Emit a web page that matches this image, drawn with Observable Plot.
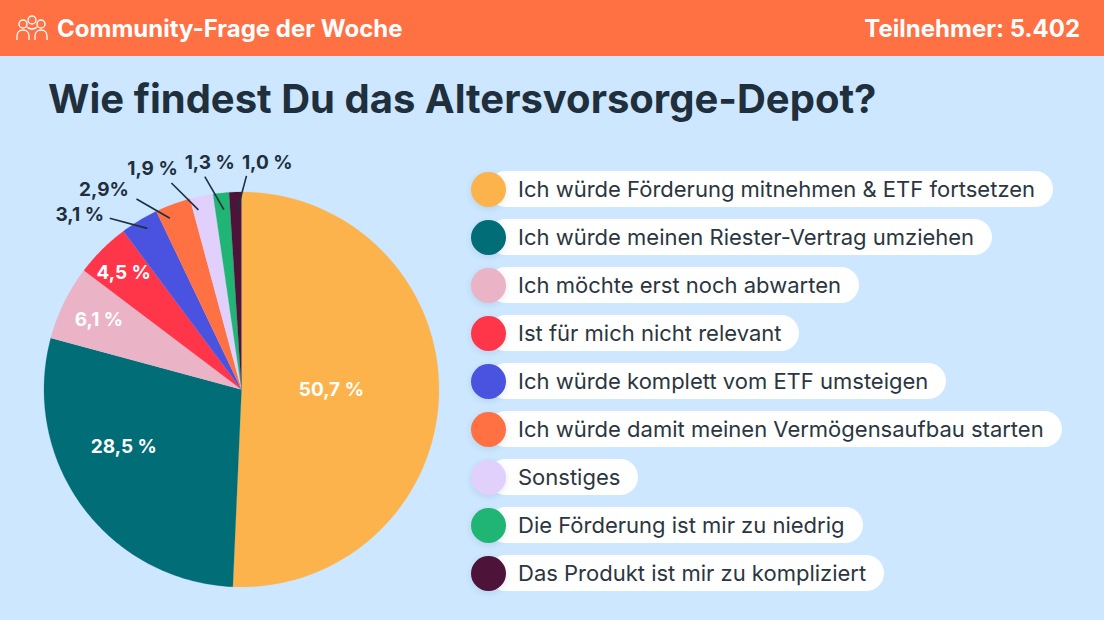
<!DOCTYPE html>
<html lang="de">
<head>
<meta charset="utf-8">
<script src="https://cdn.jsdelivr.net/npm/d3@7"></script>
<script src="https://cdn.jsdelivr.net/npm/@observablehq/plot@0.6"></script>
<style>
  html, body { margin: 0; padding: 0; width: 1104px; height: 620px; overflow: hidden; background: #cce7ff; font-family: Inter, sans-serif; }
  #header { height: 56px; background: #ff7043; color: #fff; display: flex; align-items: center; justify-content: space-between; font-size: 24px; font-weight: 700; box-sizing: border-box; padding: 0 24px 0 16px; }
  #header .left { display: flex; align-items: center; gap: 9px; }
  #title { margin: 0; height: 80px; box-sizing: border-box; padding: 17px 0 0 48px; font-size: 40px; line-height: 52px; font-weight: 700; color: #1f2f3c; }
  #main { position: relative; height: 484px; }
  #chart { position: absolute; left: 0; top: 0; }
  #legend { position: absolute; left: 471px; top: 35px; }
  .row { position: relative; height: 36px; margin-bottom: 12px; }
  .pill { position: absolute; left: 17px; top: 0; height: 36px; line-height: 36px; border-radius: 18px; background: #fff; padding: 0 18px 0 30px; white-space: nowrap; font-size: 22px; color: #2b3640; }
  .swatch { position: absolute; left: 0; top: 0.5px; width: 35px; height: 35px; border-radius: 50%; box-shadow: 0 2px 6px rgba(40,70,100,.12); }
</style>
</head>
<body>
<div id="header">
  <div class="left">
    <svg width="32" height="26" viewBox="0 0 32 26" fill="none" stroke="#fff" stroke-width="1.3">
      <circle cx="7" cy="9" r="4"/><circle cx="16" cy="5" r="4"/><circle cx="25" cy="9" r="4"/>
      <path d="M1 25v-4c0-4 3-6 6-6s6 2 6 6v4"/><path d="M19 25v-4c0-4 3-6 6-6s6 2 6 6v4"/><path d="M11 12c1 1 3 2 5 2s4-1 5-2"/>
    </svg>
    <span>Community-Frage der Woche</span>
  </div>
  <span>Teilnehmer: 5.402</span>
</div>
<h1 id="title">Wie findest Du das Altersvorsorge-Depot?</h1>
<div id="main"><div id="chart"></div><div id="legend"></div></div>
<script>
const categories = [
  "Ich würde Förderung mitnehmen & ETF fortsetzen",
  "Ich würde meinen Riester-Vertrag umziehen",
  "Ich möchte erst noch abwarten",
  "Ist für mich nicht relevant",
  "Ich würde komplett vom ETF umsteigen",
  "Ich würde damit meinen Vermögensaufbau starten",
  "Sonstiges",
  "Die Förderung ist mir zu niedrig",
  "Das Produkt ist mir zu kompliziert"
];
const values = [50.7, 28.5, 6.1, 4.5, 3.1, 2.9, 1.9, 1.3, 1.0];
const valueLabels = ["50,7 %", "28,5 %", "6,1 %", "4,5 %", "3,1 %", "2,9%", "1,9 %", "1,3 %", "1,0 %"];
const colors = ["#fdb34b", "#006d77", "#eab3c6", "#ff364a", "#4a52e0", "#ff7043", "#e2d0fc", "#20b574", "#4e1339"];

// Polar layout of the labels (angle in degrees clockwise from the top, radius in pie radii)
const insideAngle = [90, 243.8, -64, -45.4];
const insideRadius = [0.455, 0.664, 0.803, 0.838];
const leaderAngle = [-30.3, -22.7, -13.5, -5.6, -1.4];
const leaderRadius = [0.945, 0.94, 0.935, 0.915, 0.905];
const leaderBearing = [-75, -60, -45, -30, 15];
const leaderLength = [0.197, 0.195, 0.193, 0.193, 0.183];
const labelShiftX = [-0.152, -0.165, -0.096, 0.025, 0.105];
const labelShiftY = [0.019, 0.044, 0.071, 0.069, 0.066];

const rad = d => d * Math.PI / 180;
const polar = (a, r) => [r * Math.sin(rad(a)), r * Math.cos(rad(a))];

// Slice outlines: centre, then along the rim, in data units
const total = d3.sum(values);
let cum = 0;
const outline = [];
categories.forEach((cat, i) => {
  const a0 = cum / total * 360, a1 = (cum + values[i]) / total * 360;
  cum += values[i];
  outline.push({cat, x: 0, y: 0});
  const n = Math.max(2, Math.ceil((a1 - a0) / 1));
  for (let k = 0; k <= n; k++) {
    const [x, y] = polar(a0 + (a1 - a0) * k / n, 1);
    outline.push({cat, x, y});
  }
});

const inside = insideAngle.map((a, i) => {
  const [x, y] = polar(a, insideRadius[i]);
  return {x, y, text: valueLabels[i]};
});
const callouts = leaderAngle.map((a, i) => {
  const [x1, y1] = polar(a, leaderRadius[i]);
  const [ux, uy] = polar(leaderBearing[i], leaderLength[i]);
  const x2 = x1 + ux, y2 = y1 + uy;
  return {x1, y1, x2, y2, lx: x2 + labelShiftX[i], ly: y2 + labelShiftY[i], text: valueLabels[i + 4]};
});

const chart = Plot.plot({
  width: 470, height: 484,
  marginTop: 0, marginRight: 0, marginBottom: 0, marginLeft: 0,
  style: {background: "transparent", overflow: "visible"},
  x: {domain: [-1, 1], range: [43.5, 438.5], axis: null},
  y: {domain: [-1, 1], range: [450.5, 55.5], axis: null},
  color: {type: "categorical", domain: categories, range: colors},
  marks: [
    Plot.line(outline, {x: "x", y: "y", z: "cat", fill: "cat", stroke: "cat", strokeWidth: 0.2, curve: "linear"}),
    Plot.link(callouts, {x1: "x1", y1: "y1", x2: "x2", y2: "y2", stroke: "#1f2f3c", strokeWidth: 1.6}),
    Plot.text(inside, {x: "x", y: "y", text: "text", fill: "#fff", fontSize: 19, fontWeight: 700, fontFamily: "Inter, sans-serif"}),
    Plot.text(callouts, {x: "lx", y: "ly", text: "text", fill: "#1f2f3c", fontSize: 19, fontWeight: 700, fontFamily: "Inter, sans-serif"})
  ]
});
document.getElementById("chart").append(chart);

const legend = d3.select("#legend");
categories.forEach((cat, i) => {
  const row = legend.append("div").attr("class", "row");
  row.append("div").attr("class", "pill").text(cat);
  row.append("div").attr("class", "swatch").style("background", colors[i]);
});
</script>
</body>
</html>
